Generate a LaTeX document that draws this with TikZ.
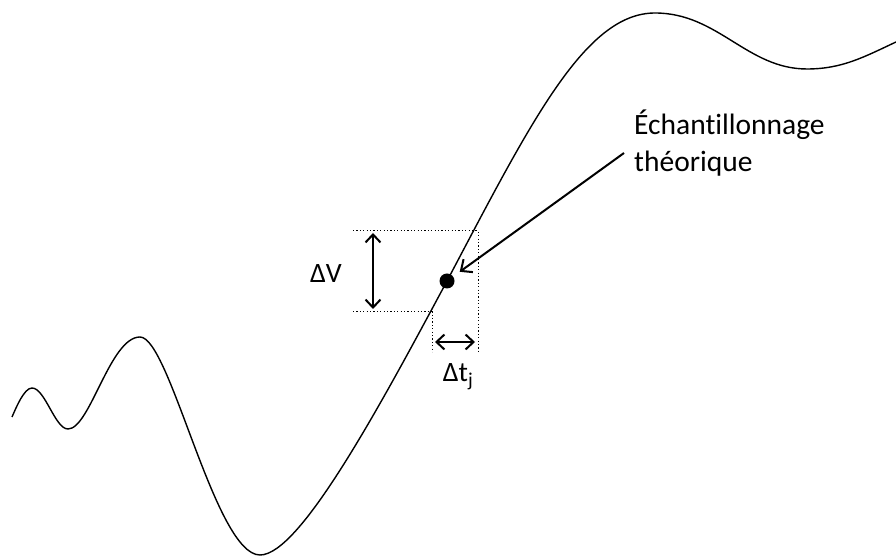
\documentclass[tikz,border=0pt]{standalone}
\usepackage{fontspec}
\setmainfont{Carlito}[Ligatures=NoCommon]
\usetikzlibrary{arrows.meta}
\tikzset{
  every node/.style={font=\fontsize{28}{34}\selectfont},
  signal/.style   = {line width=1.4pt, line join=round},
  guide/.style    = {line width=1pt, dash pattern=on 1.2pt off 2.2pt},
  dimarrow/.style = {{Straight Barb[length=8pt,width=15pt]}-{Straight Barb[length=8pt,width=15pt]},
                     line width=2pt},
  pointer/.style  = {-{Straight Barb[length=9pt,width=16pt]}, line width=2pt},
  sample/.style   = {circle, fill=black, inner sep=0pt, minimum size=15pt},
  lbl/.style      = {inner sep=0pt, align=left},
}

\begin{document}
\begin{tikzpicture}[x=1pt, y=1pt]
  \useasboundingbox (0,0) rectangle (896,556);

  % signal
  \draw[signal] (12,139) .. controls (16,148) and (24,168) .. (32,168)
    .. controls (45,168) and (55,127) .. (68,127)
    .. controls (90,127) and (110,219) .. (140,219)
    .. controls (170,219) and (215,1) .. (260,1)
    .. controls (300,1) and (380,150) .. (447,275)
    .. controls (531,434) and (585,543) .. (655,543)
    .. controls (718,543) and (747,487) .. (807,487)
    .. controls (842,487) and (864,499) .. (896,514);

  % sampling point
  \node[sample] (smp) at (447,275) {};

  % guides
  \coordinate (gtl) at (353,325);
  \coordinate (gtr) at (478,325);
  \coordinate (gbr) at (478,204);
  \coordinate (gbl) at (353,244);
  \coordinate (gbc) at (432,244);
  \coordinate (gbb) at (432,204);
  \draw[guide] (gtl) -- (gtr) -- (gbr);
  \draw[guide] (gbl) -- (gbc) -- (gbb);

  % delta V
  \coordinate (dvtop) at (373,323);
  \coordinate (dvbot) at (373,247);
  \draw[dimarrow] (dvtop) -- (dvbot);
  \node[lbl] (dv) at (326,282) {ΔV};

  % delta t
  \coordinate (dtl) at (435,214);
  \coordinate (dtr) at (475,214);
  \draw[dimarrow] (dtl) -- (dtr);
  \node[lbl, anchor=base] (dt) at (458,174) {Δt\textsubscript{j}};

  % label
  \node[lbl, anchor=north west, font=\fontsize{29.5}{37}\selectfont] (txt) at (634,446)
    {Échantillonnage\\théorique};
  \coordinate (ptr) at (624,403);
  \draw[pointer, shorten >=8pt] (ptr) -- (smp);
\end{tikzpicture}
\end{document}
